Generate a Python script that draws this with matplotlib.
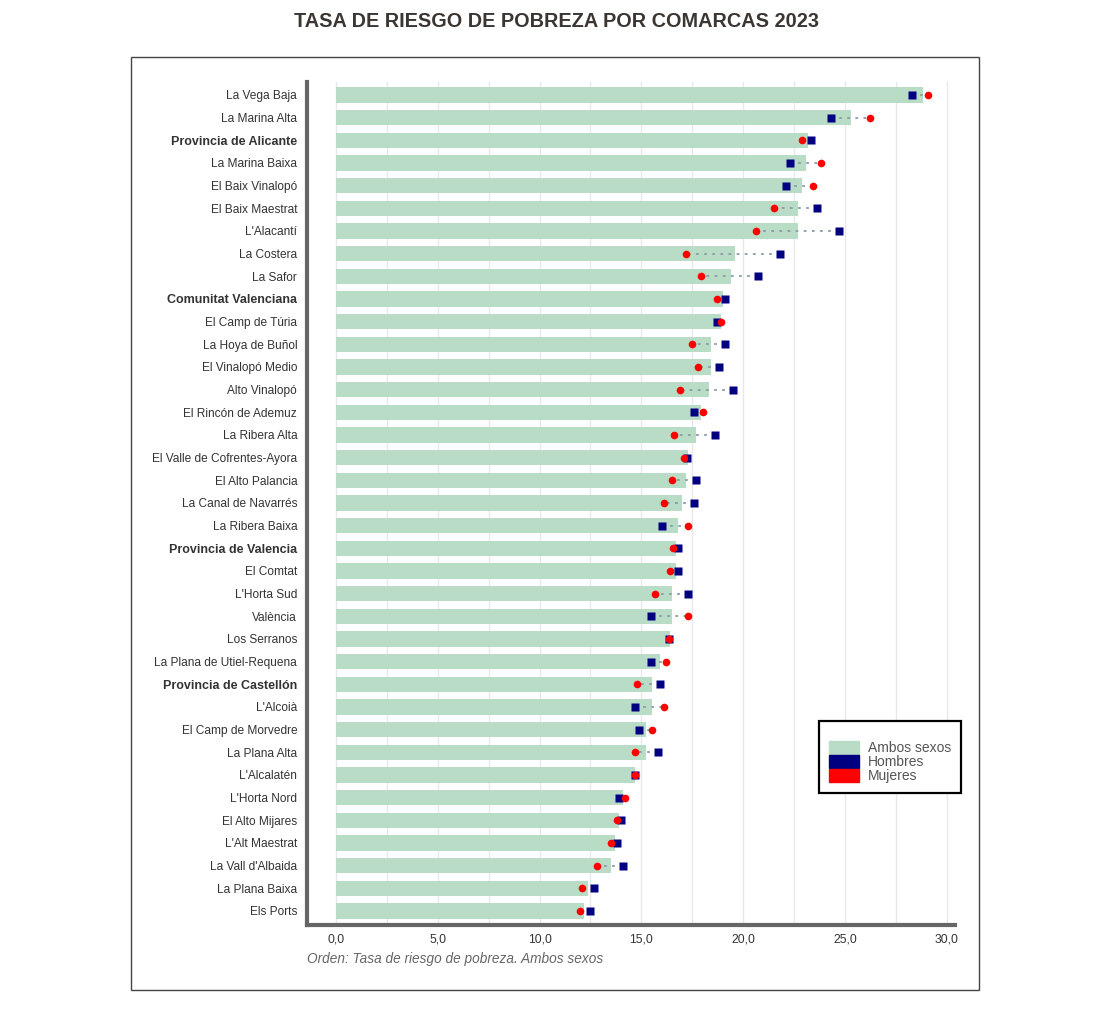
import matplotlib
matplotlib.use("Agg")
import matplotlib.pyplot as plt
from matplotlib.patches import Rectangle, Patch
from matplotlib.ticker import MultipleLocator, FuncFormatter

# ---- datos ----
comarcas = [
    "La Vega Baja", "La Marina Alta", "Provincia de Alicante", "La Marina Baixa",
    "El Baix Vinalopó", "El Baix Maestrat", "L'Alacantí", "La Costera", "La Safor",
    "Comunitat Valenciana", "El Camp de Túria", "La Hoya de Buñol", "El Vinalopó Medio",
    "Alto Vinalopó", "El Rincón de Ademuz", "La Ribera Alta", "El Valle de Cofrentes-Ayora",
    "El Alto Palancia", "La Canal de Navarrés", "La Ribera Baixa", "Provincia de Valencia",
    "El Comtat", "L'Horta Sud", "València", "Los Serranos", "La Plana de Utiel-Requena",
    "Provincia de Castellón", "L'Alcoià", "El Camp de Morvedre", "La Plana Alta",
    "L'Alcalatén", "L'Horta Nord", "El Alto Mijares", "L'Alt Maestrat", "La Vall d'Albaida",
    "La Plana Baixa", "Els Ports",
]
ambos = [28.8, 25.3, 23.2, 23.1, 22.9, 22.7, 22.7, 19.6, 19.4, 19.0,
         18.9, 18.4, 18.4, 18.3, 17.9, 17.7, 17.3, 17.2, 17.0, 16.8,
         16.7, 16.7, 16.5, 16.5, 16.4, 15.9, 15.5, 15.5, 15.2, 15.2,
         14.7, 14.1, 13.9, 13.7, 13.5, 12.4, 12.2]
hombres = [28.3, 24.3, 23.3, 22.3, 22.1, 23.6, 24.7, 21.8, 20.7, 19.1,
           18.7, 19.1, 18.8, 19.5, 17.6, 18.6, 17.25, 17.7, 17.6, 16.0,
           16.8, 16.8, 17.3, 15.45, 16.35, 15.45, 15.9, 14.7, 14.9, 15.8,
           14.7, 13.9, 14.0, 13.8, 14.1, 12.65, 12.5]
mujeres = [29.05, 26.2, 22.9, 23.8, 23.4, 21.5, 20.6, 17.2, 17.9, 18.7,
           18.9, 17.5, 17.8, 16.9, 18.0, 16.6, 17.1, 16.5, 16.1, 17.3,
           16.55, 16.4, 15.65, 17.3, 16.35, 16.2, 14.8, 16.1, 15.5, 14.7,
           14.7, 14.2, 13.8, 13.5, 12.8, 12.1, 12.0]
destacadas = ["Provincia de Alicante", "Comunitat Valenciana",
              "Provincia de Valencia", "Provincia de Castellón"]

VERDE, AZUL, ROJO = "#b8dcc6", "#000080", "#ff0000"
plt.rcParams["font.family"] = ["Liberation Sans", "DejaVu Sans"]

fig = plt.figure(figsize=(11.04, 10.32), dpi=100)
ax = fig.add_axes([0.278, 0.1037, 0.587, 0.8168])

y = list(range(len(comarcas)))
ax.barh(y, ambos, height=0.68, color=VERDE, zorder=2)
for i in y:
    ax.plot([hombres[i], mujeres[i]], [i, i], ls=(0, (1.5, 3)), lw=1.3,
            color="#8a9ca4", zorder=3)
ax.plot(hombres, y, "s", color=AZUL, ms=5.5, mec="none", zorder=4)
ax.plot(mujeres, y, "o", color=ROJO, ms=5.5, mec="none", zorder=5)

ax.set_xlim(-1.42, 30.39)
ax.set_ylim(36.62, -0.57)
ax.set_yticks(y)
ax.set_yticklabels(comarcas)
for lab in ax.get_yticklabels():
    lab.set_fontsize(8.6)
    lab.set_color("#333333")
    if lab.get_text() in destacadas:
        lab.set_fontweight("bold")
        lab.set_fontsize(9)
ax.xaxis.set_major_locator(MultipleLocator(5))
ax.xaxis.set_minor_locator(MultipleLocator(2.5))
ax.xaxis.set_major_formatter(FuncFormatter(lambda v, p: f"{v:.1f}".replace(".", ",")))
ax.tick_params(axis="x", which="both", length=0, labelsize=8.8, labelcolor="#333333", pad=6)
ax.tick_params(axis="y", length=0, pad=7)
ax.grid(axis="x", which="both", color="#e8e8e8", lw=1, zorder=0)
for s in ["top", "right"]:
    ax.spines[s].set_visible(False)
for s in ["left", "bottom"]:
    ax.spines[s].set_color("#666666")
    ax.spines[s].set_linewidth(3)

leg = ax.legend(handles=[Patch(color=VERDE, label="Ambos sexos"),
                         Patch(color=AZUL, label="Hombres"),
                         Patch(color=ROJO, label="Mujeres")],
                loc="lower right", bbox_to_anchor=(1.009, 0.1566), borderaxespad=0,
                fontsize=10, labelspacing=0, handlelength=2.15, handleheight=1.05,
                handletextpad=0.65, borderpad=0.7, fancybox=False, framealpha=1,
                labelcolor="#555555", title=" ", title_fontsize=7)
leg.get_frame().set_edgecolor("black")
leg.get_frame().set_linewidth(1.6)

fig.text(0.278, 0.071, "Orden: Tasa de riesgo de pobreza. Ambos sexos", style="italic",
         fontsize=9.8, color="#666666", va="center")
fig.text(0.504, 0.979, "TASA DE RIESGO DE POBREZA POR COMARCAS 2023", ha="center",
         va="center", fontsize=14.3, fontweight="bold", color="#3b3631")
fig.patches.append(Rectangle((0.1187, 0.0407), 0.768, 0.904, transform=fig.transFigure,
                             fill=False, edgecolor="#444444", lw=1))

fig.savefig("out.png", dpi=100)
